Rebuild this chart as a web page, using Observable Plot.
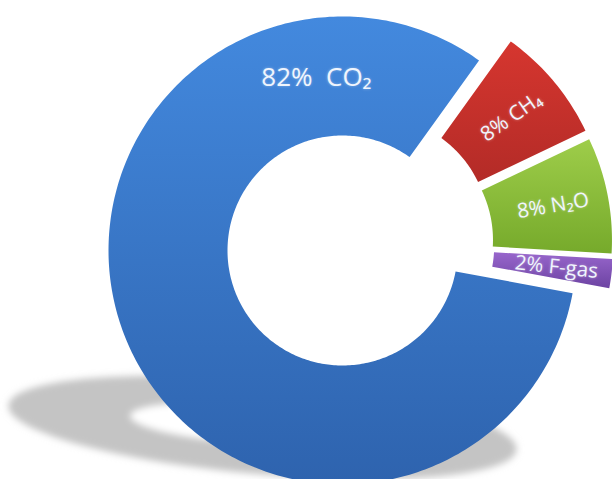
<!DOCTYPE html>
<html><head><meta charset="utf-8">
<script src="https://cdn.jsdelivr.net/npm/d3@7"></script>
<script src="https://cdn.jsdelivr.net/npm/@observablehq/plot@0.6"></script>
<style>
html,body{margin:0;padding:0;background:#fff;}
#chart svg{display:block;}
</style></head><body><div id="chart"></div>
<script>
// ---- data ----
const gases = ["CO₂", "CH₄", "N₂O", "F-gas"];
const shares = [82, 8, 8, 2];
const labels = ["82%  CO₂", "8% CH₄", "8% N₂O", "2% F-gas"];
const exploded = [false, true, true, true];
// ---- palette (top, bottom of each slice gradient) ----
const gradTop = ["#4389de", "#d6362f", "#9ecd4a", "#9866cc"];
const gradBottom = ["#2e63ae", "#b32b27", "#76aa2b", "#6c43a2"];
const gradIds = ["gCO2", "gCH4", "gN2O", "gFgas"];

// ---- geometry ----
const W = 612, H = 479, CX = 342, CY = 250;
const R_OUT = 234, R_IN = 115, EXPLODE = 37;
const START = 100.5 * Math.PI / 180;
const BIG_LABEL_FRAC = 0.85;
const DIR_BLEND = 0.5;   // explode direction: blend of slice bisector and group bisector

const rows = gases.map((g, i) => ({gas: g, share: shares[i], label: labels[i], exploded: exploded[i]}));
const arcs = d3.pie().sort(null).value(d => d.share).startAngle(START).endAngle(START + 2 * Math.PI)(rows);
const exArcs = arcs.filter(a => a.data.exploded);
const groupMid = (d3.min(exArcs, a => a.startAngle) + d3.max(exArcs, a => a.endAngle)) / 2;

const pt = (r, a) => [r * Math.sin(a), -r * Math.cos(a)];
const tangentDeg = a => {
  let d = (a * 180 / Math.PI - 90) % 360;
  if (d > 180) d -= 360;
  if (d < -180) d += 360;
  return d * 0.88;
};
const slicePts = [];
const labelRows = [];
arcs.forEach(a => {
  const ex = a.data.exploded;
  const mid = (a.startAngle + a.endAngle) / 2;
  const dir = DIR_BLEND * mid + (1 - DIR_BLEND) * groupMid;
  const off = ex ? pt(EXPLODE, dir) : [0, 0];
  const n = Math.max(6, Math.ceil((a.endAngle - a.startAngle) / (Math.PI / 180)));
  const span = a.endAngle - a.startAngle;
  for (let k = 0; k <= n; k++) { const [x, y] = pt(R_OUT, a.startAngle + span * k / n); slicePts.push({gas: a.data.gas, x: x + off[0], y: y + off[1]}); }
  for (let k = n; k >= 0; k--) { const [x, y] = pt(R_IN, a.startAngle + span * k / n); slicePts.push({gas: a.data.gas, x: x + off[0], y: y + off[1]}); }
  const la = ex ? mid : a.startAngle + span * BIG_LABEL_FRAC;
  const lp = pt((R_IN + R_OUT) / 2 + (ex ? 4 : 0), la);
  labelRows.push({
    label: a.data.label, x: lp[0] + off[0], y: lp[1] + off[1],
    rotate: ex ? tangentDeg(la) : 0,
    size: ex ? 20.5 : 26
  });
});

// shadow: the ring flattened onto the floor (outer disc and its hole)
const ellipse = (rx, ry, rot, dx, dy) => d3.range(0, 361, 4).map(t => {
  const a = t * Math.PI / 180, r = rot * Math.PI / 180;
  const ex = rx * Math.cos(a), ey = ry * Math.sin(a);
  return {x: ex * Math.cos(r) - ey * Math.sin(r) + dx, y: ex * Math.sin(r) + ey * Math.cos(r) + dy};
});
const shadowOuter = ellipse(R_OUT * 1.09, R_OUT * 0.2, 5, -80, 177);
const shadowHole = ellipse(R_IN * 0.98, R_IN * 0.17, 4, -100, 173);

const chart = Plot.plot({
  width: W, height: H,
  margin: 0,
  x: {domain: [-CX, W - CX], range: [0, W], axis: null},
  y: {domain: [-CY, H - CY], range: [0, H], axis: null},
  color: {type: "ordinal", domain: gases, range: gradIds.map(id => `url(#${id})`)},
  marks: [
    Plot.line(shadowOuter, {x: "x", y: "y", curve: "linear-closed", fill: "#c4c4c4", strokeWidth: 0}),
    Plot.line(shadowHole, {x: "x", y: "y", curve: "linear-closed", fill: "#ffffff", strokeWidth: 0}),
    Plot.line(slicePts, {x: "x", y: "y", z: "gas", fill: "gas", strokeWidth: 0, curve: "linear-closed"}),
    Plot.text(labelRows, {x: "x", y: "y", text: "label", rotate: "rotate", fontSize: "size",
      fill: "#f0f5fd", fontFamily: "'Open Sans', 'DejaVu Sans', sans-serif"})
  ]
});

// gradient and blur definitions
const ns = "http://www.w3.org/2000/svg";
const defs = document.createElementNS(ns, "defs");
gradIds.forEach((id, i) => {
  const g = document.createElementNS(ns, "linearGradient");
  g.setAttribute("id", id); g.setAttribute("x1", "0"); g.setAttribute("y1", "0");
  g.setAttribute("x2", "0"); g.setAttribute("y2", "1");
  [[0, gradTop[i]], [1, gradBottom[i]]].forEach(([o, c]) => {
    const s = document.createElementNS(ns, "stop");
    s.setAttribute("offset", o); s.setAttribute("stop-color", c);
    g.appendChild(s);
  });
  defs.appendChild(g);
});
const f = document.createElementNS(ns, "filter");
f.setAttribute("id", "soft"); f.setAttribute("x", "-20%"); f.setAttribute("y", "-60%");
f.setAttribute("width", "140%"); f.setAttribute("height", "220%");
const blur = document.createElementNS(ns, "feGaussianBlur");
blur.setAttribute("stdDeviation", "3.5");
f.appendChild(blur); defs.appendChild(f);
chart.insertBefore(defs, chart.firstChild);
const lineGroups = chart.querySelectorAll('g[aria-label="line"]');
[0, 1].forEach(i => lineGroups[i] && lineGroups[i].setAttribute("filter", "url(#soft)"));
const txt = chart.querySelector('g[aria-label="text"]');
if (txt) txt.setAttribute("style", "text-shadow:0 0 3px rgba(255,255,255,0.4)");
document.getElementById("chart").appendChild(chart);
</script></body></html>
